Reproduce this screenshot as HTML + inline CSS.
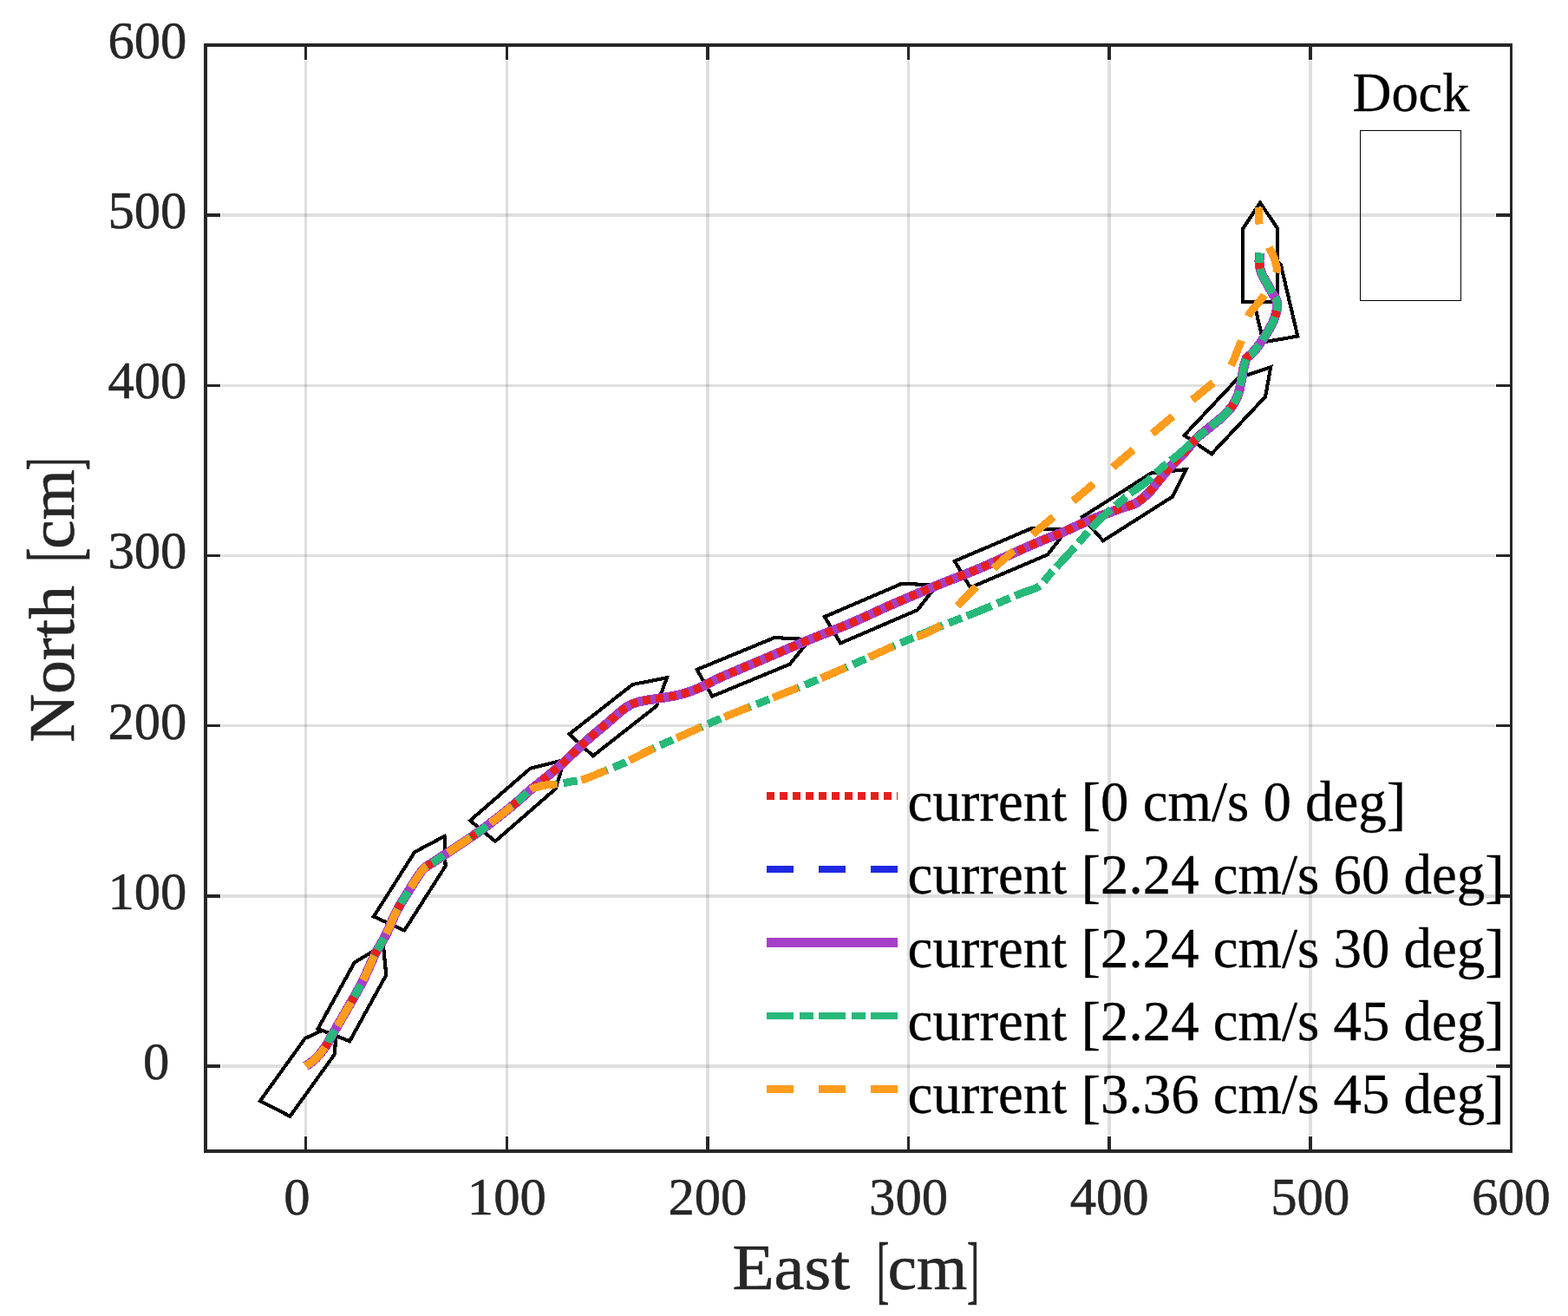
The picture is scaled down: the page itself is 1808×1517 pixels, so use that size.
<!DOCTYPE html>
<html lang="en"><head><meta charset="utf-8"><title>Docking trajectories under current</title>
<style>
html,body{margin:0;padding:0;background:#fff;}
body{width:1808px;height:1517px;overflow:hidden;}
svg{display:block;}
text{font-family:"Liberation Serif","DejaVu Serif",serif;}
</style></head><body>
<svg width="1808" height="1517" viewBox="0 0 1808 1517">
<rect width="1808" height="1517" fill="#fff"/>
<path d="M352.71 52.0 V1327.0 M584.32 52.0 V1327.0 M815.94 52.0 V1327.0 M1047.55 52.0 V1327.0 M1279.17 52.0 V1327.0 M1510.78 52.0 V1327.0" fill="none" stroke="#262626" stroke-opacity="0.15" stroke-width="3.5" shape-rendering="crispEdges"/>
<path d="M236.9 1228.92 H1742.4 M236.9 1032.77 H1742.4 M236.9 836.62 H1742.4 M236.9 640.46 H1742.4 M236.9 444.31 H1742.4 M236.9 248.15 H1742.4" fill="none" stroke="#262626" stroke-opacity="0.15" stroke-width="3.5" shape-rendering="crispEdges"/>
<path d="M352.71 1327.0 v-18.2 M352.71 52.0 v18.2 M236.9 1228.92 h18.2 M1742.4 1228.92 h-18.2 M584.32 1327.0 v-18.2 M584.32 52.0 v18.2 M236.9 1032.77 h18.2 M1742.4 1032.77 h-18.2 M815.94 1327.0 v-18.2 M815.94 52.0 v18.2 M236.9 836.62 h18.2 M1742.4 836.62 h-18.2 M1047.55 1327.0 v-18.2 M1047.55 52.0 v18.2 M236.9 640.46 h18.2 M1742.4 640.46 h-18.2 M1279.17 1327.0 v-18.2 M1279.17 52.0 v18.2 M236.9 444.31 h18.2 M1742.4 444.31 h-18.2 M1510.78 1327.0 v-18.2 M1510.78 52.0 v18.2 M236.9 248.15 h18.2 M1742.4 248.15 h-18.2" fill="none" stroke="#fff" stroke-width="3.5" shape-rendering="crispEdges"/>
<rect x="1568.5" y="150.5" width="116" height="196" fill="none" stroke="#000" stroke-width="1" shape-rendering="crispEdges"/>
<polygon points="300.0,1269.0 334.4,1286.8 386.2,1214.8 387.4,1180.4 351.8,1197.0" fill="#fff" stroke="#000" stroke-width="4.1" stroke-linejoin="miter" shape-rendering="crispEdges"/>
<polygon points="366.6,1185.9 403.2,1200.3 445.3,1123.9 441.9,1089.7 408.7,1109.5" fill="#fff" stroke="#000" stroke-width="4.1" stroke-linejoin="miter" shape-rendering="crispEdges"/>
<polygon points="430.9,1056.5 466.3,1072.6 513.6,998.4 512.5,964.0 478.1,982.2" fill="#fff" stroke="#000" stroke-width="4.1" stroke-linejoin="miter" shape-rendering="crispEdges"/>
<polygon points="542.1,945.9 571.0,969.8 640.5,909.4 650.7,876.1 611.7,885.6" fill="#fff" stroke="#000" stroke-width="4.1" stroke-linejoin="miter" shape-rendering="crispEdges"/>
<polygon points="656.4,846.3 683.8,871.3 756.9,814.0 769.0,781.2 729.5,789.0" fill="#fff" stroke="#000" stroke-width="4.1" stroke-linejoin="miter" shape-rendering="crispEdges"/>
<polygon points="803.6,771.9 821.3,802.6 910.8,765.6 933.6,737.2 893.1,735.0" fill="#fff" stroke="#000" stroke-width="4.1" stroke-linejoin="miter" shape-rendering="crispEdges"/>
<polygon points="950.9,711.0 969.1,741.4 1057.9,703.2 1080.2,674.5 1039.7,672.8" fill="#fff" stroke="#000" stroke-width="4.1" stroke-linejoin="miter" shape-rendering="crispEdges"/>
<polygon points="1100.8,646.8 1118.9,677.3 1207.9,639.4 1230.3,610.7 1189.8,608.9" fill="#fff" stroke="#000" stroke-width="4.1" stroke-linejoin="miter" shape-rendering="crispEdges"/>
<polygon points="1247.8,596.0 1272.0,623.3 1351.7,572.7 1367.7,541.1 1327.5,545.4" fill="#fff" stroke="#000" stroke-width="4.1" stroke-linejoin="miter" shape-rendering="crispEdges"/>
<polygon points="1365.5,501.9 1397.1,523.2 1459.1,457.2 1465.2,423.2 1427.5,435.9" fill="#fff" stroke="#000" stroke-width="4.1" stroke-linejoin="miter" shape-rendering="crispEdges"/>
<polygon points="1456.7,394.3 1496.3,387.6 1476.8,304.9 1450.1,279.0 1437.2,311.6" fill="#fff" stroke="#000" stroke-width="4.1" stroke-linejoin="miter" shape-rendering="crispEdges"/>
<polygon points="1433.0,348.0 1473.3,348.0 1473.3,263.6 1453.1,233.8 1433.0,263.6" fill="#fff" stroke="#000" stroke-width="4.1" stroke-linejoin="miter" shape-rendering="crispEdges"/>
<path d="M352.6 1229.0 C354.7 1227.4 361.1 1223.3 365.0 1219.3 C368.9 1215.3 373.4 1209.2 376.3 1205.0 C379.2 1200.8 377.7 1202.1 382.5 1193.8 C387.3 1185.5 399.0 1165.6 405.0 1155.0 C411.0 1144.4 414.2 1139.2 418.8 1130.0 C423.3 1120.8 428.1 1108.8 432.5 1100.0 C436.9 1091.2 440.8 1085.8 445.0 1077.5 C449.2 1069.2 452.9 1058.8 457.5 1050.0 C462.1 1041.2 467.5 1032.9 472.5 1025.0 C477.5 1017.1 482.9 1007.7 487.5 1002.5 C492.1 997.3 495.4 996.9 500.0 993.8 C504.6 990.6 507.5 988.8 515.0 983.8 C522.5 978.8 537.1 969.2 545.0 963.8 C552.9 958.3 554.6 957.3 562.5 951.2 C570.4 945.2 584.2 934.4 592.5 927.5 C600.8 920.6 607.9 913.4 612.5 910.0 C617.1 906.6 617.5 908.1 620.0 907.3 C622.5 906.5 623.6 905.9 627.4 905.3 C631.1 904.7 637.5 904.4 642.5 903.7 C647.5 903.0 652.2 902.2 657.6 901.2 C663.0 900.2 667.7 900.0 674.6 897.8 C681.5 895.6 691.2 891.1 699.1 887.9 C707.0 884.7 712.9 882.6 721.7 878.5 C730.5 874.4 740.9 868.6 751.9 863.4 C762.9 858.2 774.5 853.3 787.5 847.5 C800.5 841.7 814.6 835.2 830.0 828.8 C845.4 822.3 863.3 815.4 880.0 808.8 C896.7 802.1 913.3 795.6 930.0 788.8 C946.7 781.9 963.3 774.8 980.0 767.5 C996.7 760.2 1013.3 752.3 1030.0 745.0 C1046.7 737.7 1063.3 730.6 1080.0 723.8 C1096.7 716.9 1114.2 710.5 1130.0 704.0 C1145.8 697.5 1163.8 689.6 1175.0 685.0 C1186.2 680.4 1191.7 680.0 1197.5 676.2 C1203.3 672.5 1205.4 667.5 1210.0 662.5 C1214.6 657.5 1220.0 651.7 1225.0 646.2 C1230.0 640.8 1234.6 636.0 1240.0 630.0 C1245.4 624.0 1251.7 616.2 1257.5 610.0 C1263.3 603.8 1269.6 597.5 1275.0 592.5 C1280.4 587.5 1285.0 584.2 1290.0 580.0 C1295.0 575.8 1299.6 571.7 1305.0 567.5 C1310.4 563.3 1316.7 559.8 1322.5 555.0 C1328.3 550.2 1334.2 543.8 1340.0 538.8 C1345.8 533.8 1350.8 530.6 1357.5 525.0 C1364.2 519.4 1373.8 510.4 1380.0 505.0 C1386.2 499.6 1390.0 496.7 1395.0 492.5 C1400.0 488.3 1405.6 484.2 1410.0 480.0 C1414.4 475.8 1418.3 471.7 1421.2 467.5 C1424.2 463.3 1425.8 459.6 1427.5 455.0 C1429.2 450.4 1430.2 445.0 1431.2 440.0 C1432.3 435.0 1432.7 429.6 1433.8 425.0 C1434.8 420.4 1435.9 415.4 1437.5 412.5 C1439.1 409.6 1440.7 410.8 1443.3 407.9 C1445.9 405.0 1450.3 399.6 1453.3 395.4 C1456.3 391.2 1458.9 387.1 1461.4 382.9 C1463.9 378.7 1466.5 374.5 1468.3 370.3 C1470.1 366.1 1471.4 360.9 1472.1 357.8 C1472.8 354.7 1472.8 353.6 1472.7 351.5 C1472.6 349.4 1472.3 347.4 1471.5 345.3 C1470.7 343.2 1469.5 342.1 1467.7 339.0 C1465.9 335.9 1463.0 330.7 1460.8 326.5 C1458.5 322.3 1455.7 318.2 1454.2 314.0 C1452.7 309.8 1452.2 305.2 1452.0 301.4 C1451.8 297.6 1452.8 293.1 1453.0 291.4" pathLength="1549.64" fill="none" stroke="#1f28e2" stroke-width="9.0" stroke-dasharray="31 29" stroke-linejoin="round" shape-rendering="crispEdges"/>
<path d="M352.6 1229.0 C354.7 1227.4 361.1 1223.3 365.0 1219.3 C368.9 1215.3 373.4 1209.2 376.3 1205.0 C379.2 1200.8 377.7 1202.1 382.5 1193.8 C387.3 1185.5 399.0 1165.6 405.0 1155.0 C411.0 1144.4 414.2 1139.2 418.8 1130.0 C423.3 1120.8 428.1 1108.8 432.5 1100.0 C436.9 1091.2 440.8 1085.8 445.0 1077.5 C449.2 1069.2 452.9 1058.8 457.5 1050.0 C462.1 1041.2 467.5 1032.9 472.5 1025.0 C477.5 1017.1 482.9 1007.7 487.5 1002.5 C492.1 997.3 495.4 996.9 500.0 993.8 C504.6 990.6 507.5 988.8 515.0 983.8 C522.5 978.8 537.1 969.2 545.0 963.8 C552.9 958.3 554.6 957.3 562.5 951.2 C570.4 945.2 584.2 934.4 592.5 927.5 C600.8 920.6 605.8 915.6 612.5 910.0 C619.2 904.4 626.2 899.0 632.5 893.8 C638.8 888.5 642.9 885.2 650.0 878.8 C657.1 872.3 666.7 862.5 675.0 855.0 C683.3 847.5 692.1 840.4 700.0 833.8 C707.9 827.1 716.2 819.2 722.5 815.0 C728.8 810.8 731.2 810.4 737.5 808.8 C743.8 807.1 752.1 806.4 760.0 805.0 C767.9 803.6 777.1 802.6 785.0 800.5 C792.9 798.4 800.0 795.7 807.5 792.5 C815.0 789.3 817.9 786.7 830.0 781.2 C842.1 775.8 863.3 767.1 880.0 760.0 C896.7 752.9 913.3 745.6 930.0 738.8 C946.7 731.9 963.3 725.8 980.0 718.8 C996.7 711.7 1013.3 703.5 1030.0 696.2 C1046.7 689.0 1063.3 681.9 1080.0 675.0 C1096.7 668.1 1113.3 662.1 1130.0 655.0 C1146.7 647.9 1168.3 637.7 1180.0 632.5 C1191.7 627.3 1192.5 626.9 1200.0 623.8 C1207.5 620.6 1216.7 617.3 1225.0 613.8 C1233.3 610.2 1241.7 606.0 1250.0 602.5 C1258.3 599.0 1267.5 595.4 1275.0 592.5 C1282.5 589.6 1289.2 587.1 1295.0 585.0 C1300.8 582.9 1305.0 582.9 1310.0 580.0 C1315.0 577.1 1320.4 572.1 1325.0 567.5 C1329.6 562.9 1333.3 557.5 1337.5 552.5 C1341.7 547.5 1345.4 542.5 1350.0 537.5 C1354.6 532.5 1360.0 527.9 1365.0 522.5 C1370.0 517.1 1375.0 510.0 1380.0 505.0 C1385.0 500.0 1390.0 496.7 1395.0 492.5 C1400.0 488.3 1405.6 484.2 1410.0 480.0 C1414.4 475.8 1418.3 471.7 1421.2 467.5 C1424.2 463.3 1425.8 459.6 1427.5 455.0 C1429.2 450.4 1430.2 445.0 1431.2 440.0 C1432.3 435.0 1432.7 429.6 1433.8 425.0 C1434.8 420.4 1435.9 415.4 1437.5 412.5 C1439.1 409.6 1440.7 410.8 1443.3 407.9 C1445.9 405.0 1450.3 399.6 1453.3 395.4 C1456.3 391.2 1458.9 387.1 1461.4 382.9 C1463.9 378.7 1466.5 374.5 1468.3 370.3 C1470.1 366.1 1471.4 360.9 1472.1 357.8 C1472.8 354.7 1472.8 353.6 1472.7 351.5 C1472.6 349.4 1472.3 347.4 1471.5 345.3 C1470.7 343.2 1469.5 342.1 1467.7 339.0 C1465.9 335.9 1463.0 330.7 1460.8 326.5 C1458.5 322.3 1455.7 318.2 1454.2 314.0 C1452.7 309.8 1452.2 305.2 1452.0 301.4 C1451.8 297.6 1452.8 293.1 1453.0 291.4" fill="none" stroke="#a53fc9" stroke-width="11.0" stroke-linejoin="round" shape-rendering="crispEdges"/>
<path d="M352.6 1229.0 C354.7 1227.4 361.1 1223.3 365.0 1219.3 C368.9 1215.3 373.4 1209.2 376.3 1205.0 C379.2 1200.8 377.7 1202.1 382.5 1193.8 C387.3 1185.5 399.0 1165.6 405.0 1155.0 C411.0 1144.4 414.2 1139.2 418.8 1130.0 C423.3 1120.8 428.1 1108.8 432.5 1100.0 C436.9 1091.2 440.8 1085.8 445.0 1077.5 C449.2 1069.2 452.9 1058.8 457.5 1050.0 C462.1 1041.2 467.5 1032.9 472.5 1025.0 C477.5 1017.1 482.9 1007.7 487.5 1002.5 C492.1 997.3 495.4 996.9 500.0 993.8 C504.6 990.6 507.5 988.8 515.0 983.8 C522.5 978.8 537.1 969.2 545.0 963.8 C552.9 958.3 554.6 957.3 562.5 951.2 C570.4 945.2 584.2 934.4 592.5 927.5 C600.8 920.6 605.8 915.6 612.5 910.0 C619.2 904.4 626.2 899.0 632.5 893.8 C638.8 888.5 642.9 885.2 650.0 878.8 C657.1 872.3 666.7 862.5 675.0 855.0 C683.3 847.5 692.1 840.4 700.0 833.8 C707.9 827.1 716.2 819.2 722.5 815.0 C728.8 810.8 731.2 810.4 737.5 808.8 C743.8 807.1 752.1 806.4 760.0 805.0 C767.9 803.6 777.1 802.6 785.0 800.5 C792.9 798.4 800.0 795.7 807.5 792.5 C815.0 789.3 817.9 786.7 830.0 781.2 C842.1 775.8 863.3 767.1 880.0 760.0 C896.7 752.9 913.3 745.6 930.0 738.8 C946.7 731.9 963.3 725.8 980.0 718.8 C996.7 711.7 1013.3 703.5 1030.0 696.2 C1046.7 689.0 1063.3 681.9 1080.0 675.0 C1096.7 668.1 1113.3 662.1 1130.0 655.0 C1146.7 647.9 1168.3 637.7 1180.0 632.5 C1191.7 627.3 1192.5 626.9 1200.0 623.8 C1207.5 620.6 1216.7 617.3 1225.0 613.8 C1233.3 610.2 1241.7 606.0 1250.0 602.5 C1258.3 599.0 1267.5 595.4 1275.0 592.5 C1282.5 589.6 1289.2 587.1 1295.0 585.0 C1300.8 582.9 1305.0 582.9 1310.0 580.0 C1315.0 577.1 1320.4 572.1 1325.0 567.5 C1329.6 562.9 1333.3 557.5 1337.5 552.5 C1341.7 547.5 1345.4 542.5 1350.0 537.5 C1354.6 532.5 1360.0 527.9 1365.0 522.5 C1370.0 517.1 1375.0 510.0 1380.0 505.0 C1385.0 500.0 1390.0 496.7 1395.0 492.5 C1400.0 488.3 1405.6 484.2 1410.0 480.0 C1414.4 475.8 1418.3 471.7 1421.2 467.5 C1424.2 463.3 1425.8 459.6 1427.5 455.0 C1429.2 450.4 1430.2 445.0 1431.2 440.0 C1432.3 435.0 1432.7 429.6 1433.8 425.0 C1434.8 420.4 1435.9 415.4 1437.5 412.5 C1439.1 409.6 1440.7 410.8 1443.3 407.9 C1445.9 405.0 1450.3 399.6 1453.3 395.4 C1456.3 391.2 1458.9 387.1 1461.4 382.9 C1463.9 378.7 1466.5 374.5 1468.3 370.3 C1470.1 366.1 1471.4 360.9 1472.1 357.8 C1472.8 354.7 1472.8 353.6 1472.7 351.5 C1472.6 349.4 1472.3 347.4 1471.5 345.3 C1470.7 343.2 1469.5 342.1 1467.7 339.0 C1465.9 335.9 1463.0 330.7 1460.8 326.5 C1458.5 322.3 1455.7 318.2 1454.2 314.0 C1452.7 309.8 1452.2 305.2 1452.0 301.4 C1451.8 297.6 1452.8 293.1 1453.0 291.4" pathLength="1549.58" fill="none" stroke="#e6201c" stroke-width="9.0" stroke-dasharray="9 6" stroke-linejoin="round" shape-rendering="crispEdges"/>
<path d="M352.6 1229.0 C354.7 1227.4 361.1 1223.3 365.0 1219.3 C368.9 1215.3 373.4 1209.2 376.3 1205.0 C379.2 1200.8 377.7 1202.1 382.5 1193.8 C387.3 1185.5 399.0 1165.6 405.0 1155.0 C411.0 1144.4 414.2 1139.2 418.8 1130.0 C423.3 1120.8 428.1 1108.8 432.5 1100.0 C436.9 1091.2 440.8 1085.8 445.0 1077.5 C449.2 1069.2 452.9 1058.8 457.5 1050.0 C462.1 1041.2 467.5 1032.9 472.5 1025.0 C477.5 1017.1 482.9 1007.7 487.5 1002.5 C492.1 997.3 495.4 996.9 500.0 993.8 C504.6 990.6 507.5 988.8 515.0 983.8 C522.5 978.8 537.1 969.2 545.0 963.8 C552.9 958.3 554.6 957.3 562.5 951.2 C570.4 945.2 584.2 934.4 592.5 927.5 C600.8 920.6 607.9 913.4 612.5 910.0 C617.1 906.6 617.5 908.1 620.0 907.3 C622.5 906.5 623.6 905.9 627.4 905.3 C631.1 904.7 637.5 904.4 642.5 903.7 C647.5 903.0 652.2 902.2 657.6 901.2 C663.0 900.2 667.7 900.0 674.6 897.8 C681.5 895.6 691.2 891.1 699.1 887.9 C707.0 884.7 712.9 882.6 721.7 878.5 C730.5 874.4 740.9 868.6 751.9 863.4 C762.9 858.2 774.5 853.3 787.5 847.5 C800.5 841.7 814.6 835.2 830.0 828.8 C845.4 822.3 863.3 815.4 880.0 808.8 C896.7 802.1 913.3 795.6 930.0 788.8 C946.7 781.9 963.3 774.8 980.0 767.5 C996.7 760.2 1013.3 752.3 1030.0 745.0 C1046.7 737.7 1063.3 730.6 1080.0 723.8 C1096.7 716.9 1114.2 710.5 1130.0 704.0 C1145.8 697.5 1163.8 689.6 1175.0 685.0 C1186.2 680.4 1191.7 680.0 1197.5 676.2 C1203.3 672.5 1205.4 667.5 1210.0 662.5 C1214.6 657.5 1220.0 651.7 1225.0 646.2 C1230.0 640.8 1234.6 636.0 1240.0 630.0 C1245.4 624.0 1251.7 616.2 1257.5 610.0 C1263.3 603.8 1269.6 597.5 1275.0 592.5 C1280.4 587.5 1285.0 584.2 1290.0 580.0 C1295.0 575.8 1299.6 571.7 1305.0 567.5 C1310.4 563.3 1316.7 559.8 1322.5 555.0 C1328.3 550.2 1334.2 543.8 1340.0 538.8 C1345.8 533.8 1350.8 530.6 1357.5 525.0 C1364.2 519.4 1373.8 510.4 1380.0 505.0 C1386.2 499.6 1390.0 496.7 1395.0 492.5 C1400.0 488.3 1405.6 484.2 1410.0 480.0 C1414.4 475.8 1418.3 471.7 1421.2 467.5 C1424.2 463.3 1425.8 459.6 1427.5 455.0 C1429.2 450.4 1430.2 445.0 1431.2 440.0 C1432.3 435.0 1432.7 429.6 1433.8 425.0 C1434.8 420.4 1435.9 415.4 1437.5 412.5 C1439.1 409.6 1440.7 410.8 1443.3 407.9 C1445.9 405.0 1450.3 399.6 1453.3 395.4 C1456.3 391.2 1458.9 387.1 1461.4 382.9 C1463.9 378.7 1466.5 374.5 1468.3 370.3 C1470.1 366.1 1471.4 360.9 1472.1 357.8 C1472.8 354.7 1472.8 353.6 1472.7 351.5 C1472.6 349.4 1472.3 347.4 1471.5 345.3 C1470.7 343.2 1469.5 342.1 1467.7 339.0 C1465.9 335.9 1463.0 330.7 1460.8 326.5 C1458.5 322.3 1455.7 318.2 1454.2 314.0 C1452.7 309.8 1452.2 305.2 1452.0 301.4 C1451.8 297.6 1452.8 293.1 1453.0 291.4" pathLength="1549.64" fill="none" stroke="#27b97a" stroke-width="9.0" stroke-dasharray="31 7 16 6" stroke-linejoin="round" shape-rendering="crispEdges"/>
<path d="M352.6 1229.0 C354.7 1227.4 361.1 1223.3 365.0 1219.3 C368.9 1215.3 373.4 1209.2 376.3 1205.0 C379.2 1200.8 377.7 1202.1 382.5 1193.8 C387.3 1185.5 399.0 1165.6 405.0 1155.0 C411.0 1144.4 414.2 1139.2 418.8 1130.0 C423.3 1120.8 428.1 1108.8 432.5 1100.0 C436.9 1091.2 440.8 1085.8 445.0 1077.5 C449.2 1069.2 452.9 1058.8 457.5 1050.0 C462.1 1041.2 467.5 1032.9 472.5 1025.0 C477.5 1017.1 482.9 1007.7 487.5 1002.5 C492.1 997.3 495.4 996.9 500.0 993.8 C504.6 990.6 507.5 988.8 515.0 983.8 C522.5 978.8 537.1 969.2 545.0 963.8 C552.9 958.3 554.6 957.3 562.5 951.2 C570.4 945.2 584.2 934.4 592.5 927.5 C600.8 920.6 607.9 913.4 612.5 910.0 C617.1 906.6 617.5 908.1 620.0 907.3 C622.5 906.5 623.6 905.9 627.4 905.3 C631.1 904.7 637.5 904.4 642.5 903.7 C647.5 903.0 652.2 902.2 657.6 901.2 C663.0 900.2 667.7 900.0 674.6 897.8 C681.5 895.6 691.2 891.1 699.1 887.9 C707.0 884.7 712.9 882.6 721.7 878.5 C730.5 874.4 740.9 868.6 751.9 863.4 C762.9 858.2 774.5 853.3 787.5 847.5 C800.5 841.7 814.6 835.2 830.0 828.8 C845.4 822.3 863.3 815.4 880.0 808.8 C896.7 802.1 913.3 795.6 930.0 788.8 C946.7 781.9 963.3 774.8 980.0 767.5 C996.7 760.2 1013.3 752.3 1030.0 745.0 C1046.7 737.7 1067.5 731.7 1080.0 723.8 C1092.5 715.8 1097.3 705.5 1105.0 697.5 C1112.7 689.5 1118.9 683.3 1126.0 676.0 C1133.1 668.7 1140.4 660.6 1147.5 653.8 C1154.6 646.9 1159.4 643.1 1168.8 635.0 C1178.1 626.9 1190.2 616.3 1203.8 605.0 C1217.3 593.7 1234.6 579.9 1250.0 567.0 C1265.4 554.1 1281.0 540.5 1296.2 527.5 C1311.5 514.5 1326.0 502.1 1341.2 489.2 C1356.5 476.4 1375.6 460.4 1387.5 450.5 C1399.4 440.6 1406.7 435.9 1412.5 430.0 C1418.3 424.1 1420.0 419.7 1422.5 415.0 C1425.0 410.3 1426.1 405.4 1427.6 401.7 C1429.1 398.0 1430.2 396.9 1431.4 392.9 C1432.7 388.9 1433.6 382.9 1435.1 377.9 C1436.5 372.9 1437.8 367.2 1440.1 362.8 C1442.4 358.4 1446.0 355.2 1448.9 351.5 C1451.8 347.8 1455.0 344.5 1457.7 340.3 C1460.4 336.1 1462.8 331.1 1465.2 326.5 C1467.6 321.9 1471.2 316.7 1472.1 312.7 C1473.0 308.7 1471.5 305.8 1470.8 302.7 C1470.1 299.6 1469.0 296.8 1467.7 293.9 C1466.5 291.0 1465.1 289.1 1463.3 285.1 C1461.5 281.1 1458.9 274.7 1457.0 270.1 C1455.1 265.5 1452.8 262.7 1452.0 257.6 C1451.2 252.5 1452.0 242.4 1452.0 239.4" pathLength="1579.03" fill="none" stroke="#ff9c1c" stroke-width="9.0" stroke-dasharray="31 29" stroke-linejoin="round" shape-rendering="crispEdges"/>
<path d="M884 917.5 H1035" stroke="#e6201c" stroke-width="9" stroke-dasharray="9 6" fill="none" shape-rendering="crispEdges"/>
<path d="M884 1002 H1035" stroke="#1f28e2" stroke-width="8" stroke-dasharray="31 29" fill="none" shape-rendering="crispEdges"/>
<path d="M884 1086.5 H1035" stroke="#a53fc9" stroke-width="11" fill="none" shape-rendering="crispEdges"/>
<path d="M884 1171 H1035" stroke="#27b97a" stroke-width="8" stroke-dasharray="31 7 16 6" fill="none" shape-rendering="crispEdges"/>
<path d="M884 1255.5 H1035" stroke="#ff9c1c" stroke-width="9" stroke-dasharray="31 29" fill="none" shape-rendering="crispEdges"/>
<path d="M352.71 1327.0 v-17 M352.71 52.0 v17 M236.9 1228.92 h17 M1742.4 1228.92 h-17 M584.32 1327.0 v-17 M584.32 52.0 v17 M236.9 1032.77 h17 M1742.4 1032.77 h-17 M815.94 1327.0 v-17 M815.94 52.0 v17 M236.9 836.62 h17 M1742.4 836.62 h-17 M1047.55 1327.0 v-17 M1047.55 52.0 v17 M236.9 640.46 h17 M1742.4 640.46 h-17 M1279.17 1327.0 v-17 M1279.17 52.0 v17 M236.9 444.31 h17 M1742.4 444.31 h-17 M1510.78 1327.0 v-17 M1510.78 52.0 v17 M236.9 248.15 h17 M1742.4 248.15 h-17 M1742.40 1327.0 v-17 M1742.40 52.0 v17 M236.9 52.00 h17 M1742.4 52.00 h-17" fill="none" stroke="#262626" stroke-width="3.5" shape-rendering="crispEdges"/>
<rect x="236.9" y="52.0" width="1505.50" height="1275.00" fill="none" stroke="#262626" stroke-width="3.5" shape-rendering="crispEdges"/>
<text transform="translate(342.50 1399.75) scale(0.6070 0.6130)" font-size="100" text-anchor="middle" fill="#262626" stroke="#262626" stroke-width="0.9" stroke-linejoin="round">0</text>
<text transform="translate(584.32 1399.75) scale(0.6070 0.6130)" font-size="100" text-anchor="middle" fill="#262626" stroke="#262626" stroke-width="0.9" stroke-linejoin="round">100</text>
<text transform="translate(815.94 1399.75) scale(0.6070 0.6130)" font-size="100" text-anchor="middle" fill="#262626" stroke="#262626" stroke-width="0.9" stroke-linejoin="round">200</text>
<text transform="translate(1047.55 1399.75) scale(0.6070 0.6130)" font-size="100" text-anchor="middle" fill="#262626" stroke="#262626" stroke-width="0.9" stroke-linejoin="round">300</text>
<text transform="translate(1279.17 1399.75) scale(0.6070 0.6130)" font-size="100" text-anchor="middle" fill="#262626" stroke="#262626" stroke-width="0.9" stroke-linejoin="round">400</text>
<text transform="translate(1510.78 1399.75) scale(0.6070 0.6130)" font-size="100" text-anchor="middle" fill="#262626" stroke="#262626" stroke-width="0.9" stroke-linejoin="round">500</text>
<text transform="translate(1742.40 1399.75) scale(0.6070 0.6130)" font-size="100" text-anchor="middle" fill="#262626" stroke="#262626" stroke-width="0.9" stroke-linejoin="round">600</text>
<text transform="translate(195.33 1243.87) scale(0.6070 0.6130)" font-size="100" text-anchor="end" fill="#262626" stroke="#262626" stroke-width="0.9" stroke-linejoin="round">0</text>
<text transform="translate(215.43 1047.72) scale(0.6070 0.6130)" font-size="100" text-anchor="end" fill="#262626" stroke="#262626" stroke-width="0.9" stroke-linejoin="round">100</text>
<text transform="translate(215.43 851.57) scale(0.6070 0.6130)" font-size="100" text-anchor="end" fill="#262626" stroke="#262626" stroke-width="0.9" stroke-linejoin="round">200</text>
<text transform="translate(215.43 655.41) scale(0.6070 0.6130)" font-size="100" text-anchor="end" fill="#262626" stroke="#262626" stroke-width="0.9" stroke-linejoin="round">300</text>
<text transform="translate(215.43 459.26) scale(0.6070 0.6130)" font-size="100" text-anchor="end" fill="#262626" stroke="#262626" stroke-width="0.9" stroke-linejoin="round">400</text>
<text transform="translate(215.43 263.10) scale(0.6070 0.6130)" font-size="100" text-anchor="end" fill="#262626" stroke="#262626" stroke-width="0.9" stroke-linejoin="round">500</text>
<text transform="translate(215.43 66.95) scale(0.6070 0.6130)" font-size="100" text-anchor="end" fill="#262626" stroke="#262626" stroke-width="0.9" stroke-linejoin="round">600</text>
<text transform="translate(0.00 1485.80) scale(1 0.7350)" font-size="100" fill="#262626" stroke="#262626" stroke-width="0.9" stroke-linejoin="round"><tspan x="844.44" y="0.00" font-size="100.0" textLength="135.69" lengthAdjust="spacingAndGlyphs">East</tspan> <tspan x="1010.79" y="8.16" font-size="117.0" textLength="14.68" lengthAdjust="spacingAndGlyphs">[</tspan><tspan x="1023.80" y="0.00" font-size="100.0" textLength="91.55" lengthAdjust="spacingAndGlyphs">cm</tspan><tspan x="1114.92" y="8.16" font-size="117.0" textLength="14.06" lengthAdjust="spacingAndGlyphs">]</tspan></text>
<text transform="translate(85.00 0.00) rotate(-90) scale(1 0.7350)" font-size="100" fill="#262626" stroke="#262626" stroke-width="0.9" stroke-linejoin="round"><tspan x="-856.13" y="0.00" font-size="100.0" textLength="181.14" lengthAdjust="spacingAndGlyphs">North</tspan> <tspan x="-647.65" y="8.16" font-size="117.0" textLength="16.20" lengthAdjust="spacingAndGlyphs">[</tspan><tspan x="-632.69" y="0.00" font-size="100.0" textLength="91.45" lengthAdjust="spacingAndGlyphs">cm</tspan><tspan x="-542.32" y="8.16" font-size="117.0" textLength="14.51" lengthAdjust="spacingAndGlyphs">]</tspan></text>
<text transform="translate(1626.90 128.10) scale(0.6216 0.6415)" font-size="100" text-anchor="middle" fill="#000" stroke="#000" stroke-width="0.5" stroke-linejoin="round">Dock</text>
<text transform="translate(1046.6 945.80) scale(0.6488 0.6515)" font-size="100" fill="#000" stroke="#000" stroke-width="0.5">current <tspan font-size="104.5" dy="5">[</tspan><tspan dy="-5">0 cm/s 0 deg</tspan><tspan font-size="104.5" dy="5">]</tspan></text>
<text transform="translate(1046.6 1030.20) scale(0.6488 0.6515)" font-size="100" fill="#000" stroke="#000" stroke-width="0.5">current <tspan font-size="104.5" dy="5">[</tspan><tspan dy="-5">2.24 cm/s 60 deg</tspan><tspan font-size="104.5" dy="5">]</tspan></text>
<text transform="translate(1046.6 1114.60) scale(0.6488 0.6515)" font-size="100" fill="#000" stroke="#000" stroke-width="0.5">current <tspan font-size="104.5" dy="5">[</tspan><tspan dy="-5">2.24 cm/s 30 deg</tspan><tspan font-size="104.5" dy="5">]</tspan></text>
<text transform="translate(1046.6 1199.00) scale(0.6488 0.6515)" font-size="100" fill="#000" stroke="#000" stroke-width="0.5">current <tspan font-size="104.5" dy="5">[</tspan><tspan dy="-5">2.24 cm/s 45 deg</tspan><tspan font-size="104.5" dy="5">]</tspan></text>
<text transform="translate(1046.6 1283.40) scale(0.6488 0.6515)" font-size="100" fill="#000" stroke="#000" stroke-width="0.5">current <tspan font-size="104.5" dy="5">[</tspan><tspan dy="-5">3.36 cm/s 45 deg</tspan><tspan font-size="104.5" dy="5">]</tspan></text>
</svg>
</body></html>
